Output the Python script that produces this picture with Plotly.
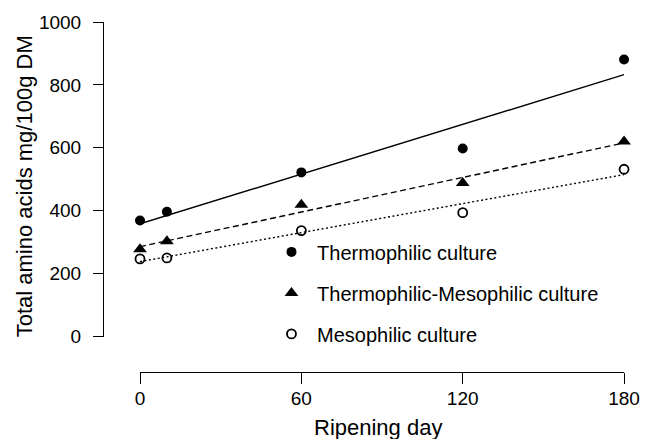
import numpy as np
import plotly.graph_objects as go

days = [0, 10, 60, 120, 180]
thermo = [369, 397, 522, 598, 881]
thermo_meso = [278, 303, 419, 488, 620]
meso = [247, 250, 337, 394, 532]

x_ticks = [0, 60, 120, 180]
y_ticks = [0, 200, 400, 600, 800, 1000]

series = [
    ("Thermophilic culture", thermo, "circle", 10, "solid", None),
    ("Thermophilic-Mesophilic culture", thermo_meso, "triangle-up", 12, "6px,3.5px", None),
    ("Mesophilic culture", meso, "circle-open", 9, "2px,2.5px", 1.8),
]

FONT = "Liberation Sans, Arial, Helvetica, sans-serif"
fig = go.Figure()
xs = np.array([0, 180])
for name, vals, sym, size, dash, lw in series:
    k, b = np.polyfit(days, vals, 1)
    fig.add_trace(go.Scatter(x=xs, y=k * xs + b, mode="lines",
                             line=dict(color="black", width=1.4, dash=dash),
                             showlegend=False, hoverinfo="skip", cliponaxis=False))
    mk = dict(symbol=sym, size=size, color="black")
    if lw:
        mk["line"] = dict(width=lw, color="black")
    fig.add_trace(go.Scatter(x=days, y=vals, mode="markers", marker=mk,
                             name="\u00a0" + name, legendgroup=name,
                             cliponaxis=False))

W, H = 654, 439
L, R, T, B = 103, 640, 16, 372
pw, ph = R - L, B - T


def px(xp):
    return (xp - L) / pw


def py(yp):
    return (B - yp) / ph


fig.update_layout(
    width=W, height=H,
    margin=dict(l=L, r=W - R, t=T, b=H - B, pad=0),
    paper_bgcolor="white", plot_bgcolor="white",
    font=dict(family=FONT, color="black", size=19),
    showlegend=True,
    legend=dict(x=px(276), y=py(230), xanchor="left", yanchor="top",
                bgcolor="rgba(0,0,0,0)", font=dict(size=20, family=FONT),
                tracegroupgap=12, itemwidth=30),
    xaxis=dict(range=[0, 180], domain=[px(141), px(638)],
               anchor="free", position=0, showline=True, linecolor="black", linewidth=1,
               ticks="outside", ticklen=11, tickwidth=1, tickcolor="black",
               tickvals=x_ticks, showgrid=False, zeroline=False,
               tickfont=dict(size=19), ticklabelstandoff=-2),
    yaxis=dict(range=[0, 1000], domain=[py(336), 1],
               anchor="free", position=0, showline=True, linecolor="black", linewidth=1,
               ticks="outside", ticklen=10, tickwidth=1, tickcolor="black",
               tickvals=y_ticks, showgrid=False, zeroline=False,
               tickfont=dict(size=19), ticklabelstandoff=8),
    annotations=[
        dict(text="Ripening day", xref="paper", yref="paper", x=px(385), y=py(428),
             xanchor="center", yanchor="middle", showarrow=False, font=dict(size=22)),
        dict(text="Total amino acids mg/100g DM", xref="paper", yref="paper",
             x=px(22), y=py(183), xanchor="center", yanchor="middle",
             textangle=-90, showarrow=False, font=dict(size=22)),
    ],
)
fig.write_html("out.html")
